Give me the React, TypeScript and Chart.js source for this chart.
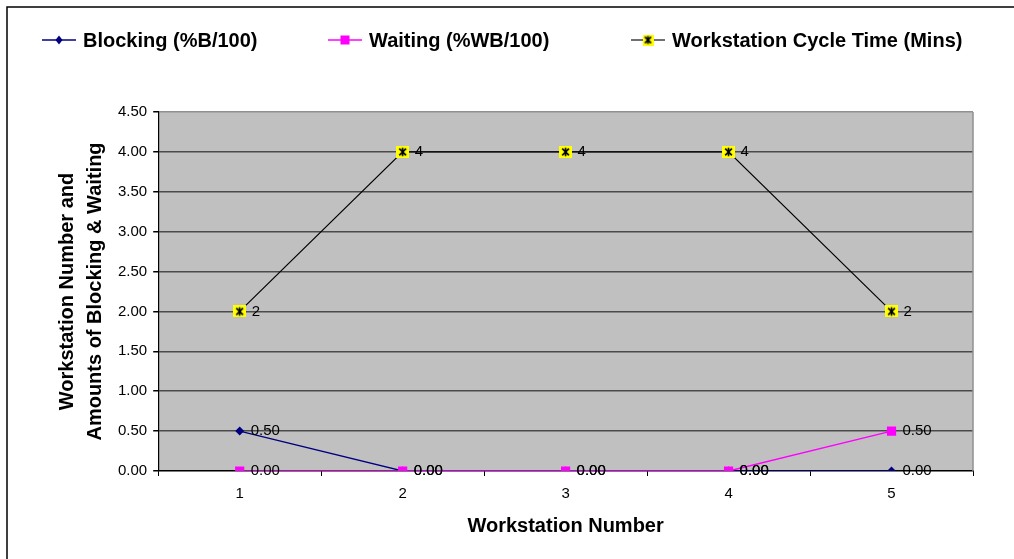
import React, { useEffect, useRef } from 'react';
import { Chart, registerables } from 'chart.js';

Chart.register(...registerables);

// ---- data ----
const categories = ['1', '2', '3', '4', '5'];
const blocking = [0.5, 0, 0, 0, 0];
const waiting = [0, 0, 0, 0, 0.5];
const cycleTime = [2, 4, 4, 4, 2];
const seriesLabels = ['Blocking (%B/100)', 'Waiting (%WB/100)', 'Workstation Cycle Time (Mins)'];
const labelDecimals = [2, 2, 0];
const yMin = 0;
const yMax = 4.5;
const yStep = 0.5;
const xTitle = 'Workstation Number';
const yTitle = ['Workstation Number and', 'Amounts of Blocking & Waiting'];

const FONT = '"Liberation Sans", Arial, sans-serif';
const NAVY = '#000080';
const MAGENTA = '#FF00FF';

function makeStarSquare(w: number, h: number): HTMLCanvasElement {
  const c = document.createElement('canvas');
  c.width = w;
  c.height = h;
  const g = c.getContext('2d')!;
  g.fillStyle = '#FFFF00';
  g.fillRect(0, 0, w, h);
  g.strokeStyle = '#000';
  g.lineWidth = 1.6;
  const mx = w / 2;
  const my = h / 2;
  const a = Math.min(w, h) * 0.28;
  g.beginPath();
  g.moveTo(mx - a, my - a);
  g.lineTo(mx + a, my + a);
  g.moveTo(mx + a, my - a);
  g.lineTo(mx - a, my + a);
  g.moveTo(mx, my - a - 1);
  g.lineTo(mx, my + a + 1);
  g.stroke();
  return c;
}

const LEGEND_TEXT_X = [83, 369, 672];
const LEGEND_Y = 40;

const App: React.FC = () => {
  const ref = useRef<HTMLCanvasElement | null>(null);

  useEffect(() => {
    document.body.style.margin = '0';
    const canvas = ref.current;
    if (!canvas) return;
    const star = makeStarSquare(13, 12);
    const starSmall = makeStarSquare(11, 11);

    const backgroundPlugin = {
      id: 'bgPlugin',
      beforeDraw(chart: any) {
        const { ctx, chartArea: ca, width, height } = chart;
        ctx.save();
        ctx.fillStyle = '#FFFFFF';
        ctx.fillRect(0, 0, width, height);
        ctx.fillStyle = '#C0C0C0';
        ctx.fillRect(ca.left, ca.top, ca.right - ca.left, ca.bottom - ca.top);
        ctx.strokeStyle = '#000';
        ctx.lineWidth = 1.5;
        ctx.strokeRect(7, 7, width + 40, height + 40);
        ctx.restore();
      },
      beforeDatasetsDraw(chart: any) {
        const { ctx, chartArea: ca } = chart;
        ctx.save();
        ctx.strokeStyle = '#909090';
        ctx.lineWidth = 1.5;
        ctx.beginPath();
        ctx.moveTo(ca.right, ca.top);
        ctx.lineTo(ca.right, ca.bottom);
        ctx.stroke();
        ctx.restore();
      },
    };

    const labelPlugin = {
      id: 'valueLabels',
      afterDatasetsDraw(chart: any) {
        const { ctx } = chart;
        ctx.save();
        ctx.font = `15px ${FONT}`;
        ctx.fillStyle = '#000';
        ctx.textAlign = 'left';
        ctx.textBaseline = 'middle';
        chart.data.datasets.forEach((ds: any, i: number) => {
          const meta = chart.getDatasetMeta(i);
          const dec = labelDecimals[i];
          const off = dec === 0 ? 12 : 11;
          meta.data.forEach((pt: any, j: number) => {
            const v = ds.data[j] as number;
            ctx.fillText(v.toFixed(dec), pt.x + off, pt.y);
          });
        });
        ctx.restore();
      },
    };

    const legendPlugin = {
      id: 'excelLegend',
      afterDraw(chart: any) {
        const { ctx } = chart;
        ctx.save();
        ctx.font = `bold 20px ${FONT}`;
        ctx.textAlign = 'left';
        ctx.textBaseline = 'middle';
        chart.data.datasets.forEach((ds: any, i: number) => {
          const tx = LEGEND_TEXT_X[i];
          const y = LEGEND_Y;
          const x0 = tx - 41;
          const x1 = tx - 7;
          const cx = (x0 + x1) / 2;
          ctx.strokeStyle = i === 2 ? '#404040' : ds.borderColor;
          ctx.lineWidth = 1.5;
          ctx.beginPath();
          ctx.moveTo(x0, y);
          ctx.lineTo(x1, y);
          ctx.stroke();
          if (i === 0) {
            ctx.fillStyle = NAVY;
            ctx.beginPath();
            ctx.moveTo(cx, y - 4.5);
            ctx.lineTo(cx + 3.5, y);
            ctx.lineTo(cx, y + 4.5);
            ctx.lineTo(cx - 3.5, y);
            ctx.closePath();
            ctx.fill();
          } else if (i === 1) {
            ctx.fillStyle = MAGENTA;
            ctx.fillRect(cx - 4.5, y - 4.5, 9, 9);
          } else {
            ctx.drawImage(starSmall, cx - 5.5, y - 5.5);
          }
          ctx.fillStyle = '#000';
          ctx.fillText(ds.label, tx, y + 1);
        });
        ctx.restore();
      },
    };

    const chart = new Chart(canvas, {
      type: 'line',
      data: {
        labels: categories,
        datasets: [
          {
            label: seriesLabels[0],
            data: blocking,
            borderColor: NAVY,
            backgroundColor: NAVY,
            borderWidth: 1.3,
            pointStyle: 'rectRot',
            pointRadius: 4.5,
            pointBorderWidth: 0,
            pointBackgroundColor: NAVY,
            order: 3,
          },
          {
            label: seriesLabels[1],
            data: waiting,
            borderColor: MAGENTA,
            backgroundColor: MAGENTA,
            borderWidth: 1.5,
            pointStyle: 'rect',
            pointRadius: 6.5,
            pointBorderWidth: 0,
            pointBackgroundColor: MAGENTA,
            order: 2,
          },
          {
            label: seriesLabels[2],
            data: cycleTime,
            borderColor: '#000',
            backgroundColor: '#FFFF00',
            borderWidth: 1.2,
            pointStyle: star as any,
            pointRadius: 6,
            order: 1,
          },
        ],
      },
      options: {
        animation: false,
        responsive: false,
        devicePixelRatio: 1,
        layout: { padding: { top: 112, left: 53, right: 41, bottom: 21 } },
        plugins: {
          legend: { display: false },
          tooltip: { enabled: false },
        },
        elements: { line: { tension: 0 } },
        scales: {
          x: {
            type: 'category',
            offset: true,
            grid: {
              offset: true,
              drawOnChartArea: false,
              drawTicks: true,
              tickLength: 5,
              tickColor: '#000',
              lineWidth: 1,
            },
            border: { color: '#000', width: 1.2 },
            ticks: { font: { size: 15, family: FONT }, color: '#000', padding: 9 },
            title: {
              display: true,
              text: xTitle,
              color: '#000',
              font: { size: 20, weight: 'bold', family: FONT },
              padding: { top: 2, bottom: 0 },
            },
          },
          y: {
            min: yMin,
            max: yMax,
            grid: {
              color: (c: any) => (c.tick && c.tick.value === yMax ? '#909090' : '#4a4a4a'),
              lineWidth: 1.5,
              tickLength: 5,
              tickColor: '#000',
            },
            border: { color: '#000', width: 1.2 },
            ticks: {
              stepSize: yStep,
              font: { size: 15, family: FONT },
              color: '#000',
              padding: 6,
              callback: (v: any) => Number(v).toFixed(2),
            },
            title: {
              display: true,
              text: yTitle,
              color: '#000',
              font: { size: 20, weight: 'bold', family: FONT, lineHeight: 1.4 },
              padding: { top: 0, bottom: 3 },
            },
          },
        },
      },
      plugins: [backgroundPlugin, labelPlugin, legendPlugin],
    });

    return () => {
      chart.destroy();
    };
  }, []);

  return (
    <div style={{ width: 1014, height: 559, position: 'relative' }}>
      <canvas ref={ref} width={1014} height={559} style={{ display: 'block' }} />
    </div>
  );
};

export default App;
